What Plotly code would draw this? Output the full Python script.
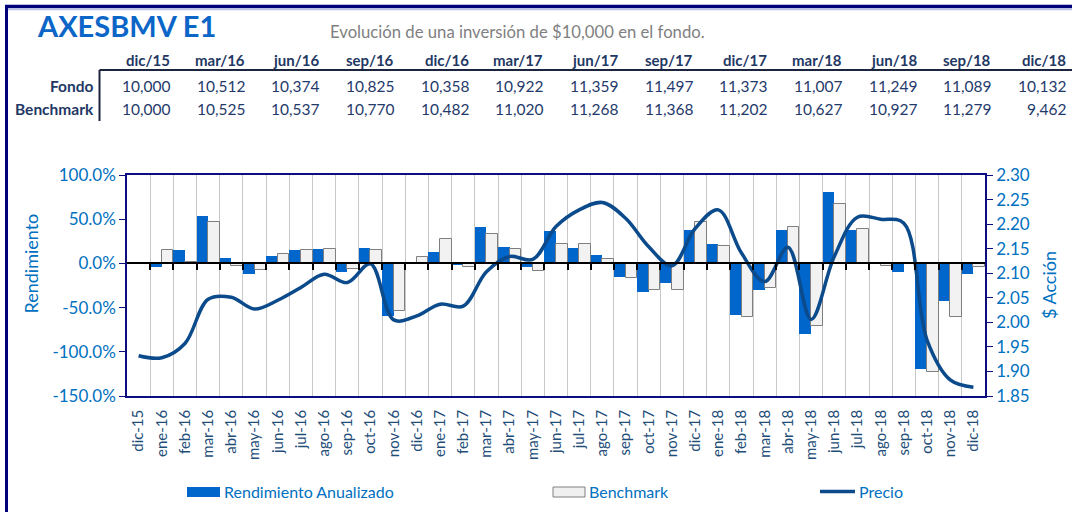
import plotly.graph_objects as go

# ---------------- data ----------------
months = ['dic-15', 'ene-16', 'feb-16', 'mar-16', 'abr-16', 'may-16', 'jun-16', 'jul-16', 'ago-16',
          'sep-16', 'oct-16', 'nov-16', 'dic-16', 'ene-17', 'feb-17', 'mar-17', 'abr-17', 'may-17',
          'jun-17', 'jul-17', 'ago-17', 'sep-17', 'oct-17', 'nov-17', 'dic-17', 'ene-18', 'feb-18',
          'mar-18', 'abr-18', 'may-18', 'jun-18', 'jul-18', 'ago-18', 'sep-18', 'oct-18', 'nov-18',
          'dic-18']

rendimiento = [0, -3.6, 15, 54, 6.2, -12.3, 8.9, 15, 16.4, -9.6, 17.9, -59.5,
               1.8, 13.4, -1.5, 41, 19, -3.6, 36.8, 17.9, 9.2, -14.9, -32.6, -22,
               37.9, 22, -58.3, -30, 37.9, -79.8, 81.2, 38.3, 1.5, -9.2, -119, -42.8, -12.3]

benchmark = [0, 15, 1.7, 46.6, -3.5, -7.4, 10.4, 15, 16, -6.2, 15, -53.7,
             7.4, 27.3, -3.6, 33.4, 16, -8.9, 21.7, 21.7, 4.7, -16, -30.3, -30.3,
             47.3, 20.2, -60.9, -27.3, 41.6, -70.7, 67, 39, -3.2, -1.0, -123, -60.9, -4.3]

precio = [1.932, 1.928, 1.957, 2.047, 2.051, 2.027, 2.045, 2.071, 2.098, 2.081, 2.119, 2.005,
          2.013, 2.037, 2.033, 2.103, 2.134, 2.128, 2.195, 2.229, 2.244, 2.212, 2.154, 2.115,
          2.191, 2.229, 2.141, 2.083, 2.153, 2.006, 2.134, 2.214, 2.210, 2.202, 1.964, 1.883, 1.868]

left_ticks = [-150, -100, -50, 0, 50, 100]
right_ticks = [1.85, 1.90, 1.95, 2.00, 2.05, 2.10, 2.15, 2.20, 2.25, 2.30]

table_dates = ['dic/15', 'mar/16', 'jun/16', 'sep/16', 'dic/16', 'mar/17', 'jun/17', 'sep/17',
               'dic/17', 'mar/18', 'jun/18', 'sep/18', 'dic/18']
fondo = [10000, 10512, 10374, 10825, 10358, 10922, 11359, 11497, 11373, 11007, 11249, 11089, 10132]
bench_tbl = [10000, 10525, 10537, 10770, 10482, 11020, 11268, 11368, 11202, 10627, 10927, 11279, 9462]

title_text = 'AXESBMV E1'
subtitle_text = 'Evolución de una inversión de $10,000 en el fondo.'

# ---------------- layout geometry (pixels) ----------------
W, H = 1072, 512
L, R, T, B = 127, 985, 175, 396
PW, PH = R - L, B - T


def px(x):
    return (x - L) / PW


def py(y):
    return (B - y) / PH


FONT = 'Lato, "Open Sans", sans-serif'
BLUE = '#0066CC'
TXTBLUE = '#0070C0'
NAVY = '#0D0D80'
LINE = '#0B4A8B'
TBL = '#1F3A6B'

fig = go.Figure()
fig.add_trace(go.Bar(x=months, y=rendimiento, name='Rendimiento Anualizado',
                     marker=dict(color=BLUE, line=dict(width=0)), showlegend=False))
fig.add_trace(go.Bar(x=months, y=benchmark, name='Benchmark',
                     marker=dict(color='#F2F2F2', line=dict(color='#7F7F7F', width=1)),
                     showlegend=False))
fig.add_trace(go.Scatter(x=months, y=precio, name='Precio', yaxis='y2', mode='lines',
                         line=dict(color=LINE, width=3.5, shape='spline', smoothing=1.0),
                         showlegend=False))
# helper trace so the zero-crossing category axis is drawn
fig.add_trace(go.Scatter(x=[None], y=[None], xaxis='x2', yaxis='y', showlegend=False,
                         hoverinfo='skip'))

annotations = []
shapes = []

# title & subtitle
annotations.append(dict(text=f'<b>{title_text}</b>', x=px(35), y=py(25), xref='paper', yref='paper',
                        xanchor='left', yanchor='middle', showarrow=False,
                        font=dict(family=FONT, size=29, color='#0B66C8')))
annotations.append(dict(text=subtitle_text, x=px(328), y=py(32), xref='paper', yref='paper',
                        xanchor='left', yanchor='middle', showarrow=False,
                        font=dict(family=FONT, size=16.7, color='#7F7F7F')))

# table
for i, d in enumerate(table_dates):
    xr = 172 + 74.67 * i
    annotations.append(dict(text=f'<b>{d}</b>', x=px(xr), y=py(60), xref='paper', yref='paper',
                            xanchor='right', yanchor='middle', showarrow=False,
                            font=dict(family=FONT, size=15, color='#1F3864')))
    annotations.append(dict(text=f'{fondo[i]:,}', x=px(xr), y=py(86), xref='paper', yref='paper',
                            xanchor='right', yanchor='middle', showarrow=False,
                            font=dict(family=FONT, size=15.5, color=TBL)))
    annotations.append(dict(text=f'{bench_tbl[i]:,}', x=px(xr), y=py(109), xref='paper', yref='paper',
                            xanchor='right', yanchor='middle', showarrow=False,
                            font=dict(family=FONT, size=15.5, color=TBL)))
for lbl, yy in (('Fondo', 86), ('Benchmark', 109)):
    annotations.append(dict(text=f'<b>{lbl}</b>', x=px(96), y=py(yy), xref='paper', yref='paper',
                            xanchor='right', yanchor='middle', showarrow=False,
                            font=dict(family=FONT, size=15.5, color='#1F3864')))

shapes.append(dict(type='line', xref='paper', yref='paper', x0=px(99.5), x1=px(99.5),
                   y0=py(70), y1=py(121), line=dict(color='#1C2540', width=2)))
shapes.append(dict(type='line', xref='paper', yref='paper', x0=px(99.5), x1=px(1080),
                   y0=py(70), y1=py(70), line=dict(color='#1C2540', width=2)))

# outer frame (top and left edges visible)
shapes.append(dict(type='line', xref='paper', yref='paper', x0=px(5), x1=px(1072),
                   y0=py(6.5), y1=py(6.5), line=dict(color='#00007A', width=3.5)))
shapes.append(dict(type='line', xref='paper', yref='paper', x0=px(6.5), x1=px(6.5),
                   y0=py(5), y1=py(512), line=dict(color='#00007A', width=3)))
shapes.append(dict(type='line', xref='paper', yref='paper', x0=px(8), x1=px(1072),
                   y0=py(9.5), y1=py(9.5), line=dict(color='#B8C4E6', width=1.5)))

# axis titles
annotations.append(dict(text='Rendimiento', x=px(30), y=py(263.5), xref='paper', yref='paper',
                        textangle=-90, showarrow=False, xanchor='center', yanchor='middle',
                        font=dict(family=FONT, size=18, color=TXTBLUE)))
annotations.append(dict(text='$ Acción', x=px(1049), y=py(285), xref='paper', yref='paper',
                        textangle=-90, showarrow=False, xanchor='center', yanchor='middle',
                        font=dict(family=FONT, size=18, color=TXTBLUE)))

# legend (drawn manually to match swatch sizes)
shapes.append(dict(type='rect', xref='paper', yref='paper', x0=px(187), x1=px(220),
                   y0=py(497), y1=py(487), fillcolor=BLUE, line=dict(width=0)))
shapes.append(dict(type='rect', xref='paper', yref='paper', x0=px(553), x1=px(585),
                   y0=py(497), y1=py(487), fillcolor='#F0F0F0', line=dict(color='#808080', width=1)))
shapes.append(dict(type='line', xref='paper', yref='paper', x0=px(820), x1=px(855),
                   y0=py(491.5), y1=py(491.5), line=dict(color=LINE, width=3.5)))
for txt, xx in (('Rendimiento Anualizado', 222), ('Benchmark', 587), ('Precio', 857)):
    annotations.append(dict(text=txt, x=px(xx), y=py(491), xref='paper', yref='paper',
                            xanchor='left', yanchor='middle', showarrow=False,
                            font=dict(family=FONT, size=16, color=TXTBLUE)))

fig.update_layout(
    width=W, height=H,
    margin=dict(l=L, r=W - R, t=T, b=H - B, pad=0),
    paper_bgcolor='white', plot_bgcolor='white',
    barmode='group', bargap=0, bargroupgap=0,
    font=dict(family=FONT),
    xaxis=dict(type='category', tickson='boundaries', showgrid=True, gridcolor='#C8C8C8',
               gridwidth=1, ticks='', tickangle=-90, showline=True, linecolor=NAVY,
               linewidth=1.5, mirror=True, ticklabelstandoff=6,
               tickfont=dict(family=FONT, size=15, color='#1F4E79')),
    xaxis2=dict(type='linear', overlaying='x', anchor='free', position=0.6,
                range=[-0.5, len(months) - 0.5],
                tickmode='array', tickvals=[k + 0.5 for k in range(len(months) - 1)],
                ticks='outside', ticklen=6, tickcolor='black', tickwidth=1.5,
                showticklabels=False, showline=True, linecolor='black', linewidth=1.5,
                showgrid=False, zeroline=False),
    yaxis=dict(range=[-150, 100], tickmode='array', tickvals=left_ticks,
               ticktext=[f'{v:.1f}%' for v in left_ticks], showgrid=False, zeroline=False,
               showline=True, linecolor=NAVY, linewidth=1.5, ticks='outside', ticklen=6,
               tickcolor=NAVY, tickfont=dict(family=FONT, size=17, color=TXTBLUE)),
    yaxis2=dict(overlaying='y', side='right', range=[1.85, 2.30], tickmode='array',
                tickvals=right_ticks, ticktext=[f'{v:.2f}' for v in right_ticks],
                showgrid=False, zeroline=False, showline=True,
                linecolor=NAVY, linewidth=1.5, ticks='outside', ticklen=6, tickcolor=NAVY,
                tickfont=dict(family=FONT, size=17, color=TXTBLUE)),
    annotations=annotations, shapes=shapes,
)

fig.write_html('out.html', config={'displayModeBar': False},
               post_script=["document.body.style.margin='0';document.body.style.overflow='hidden';"])
